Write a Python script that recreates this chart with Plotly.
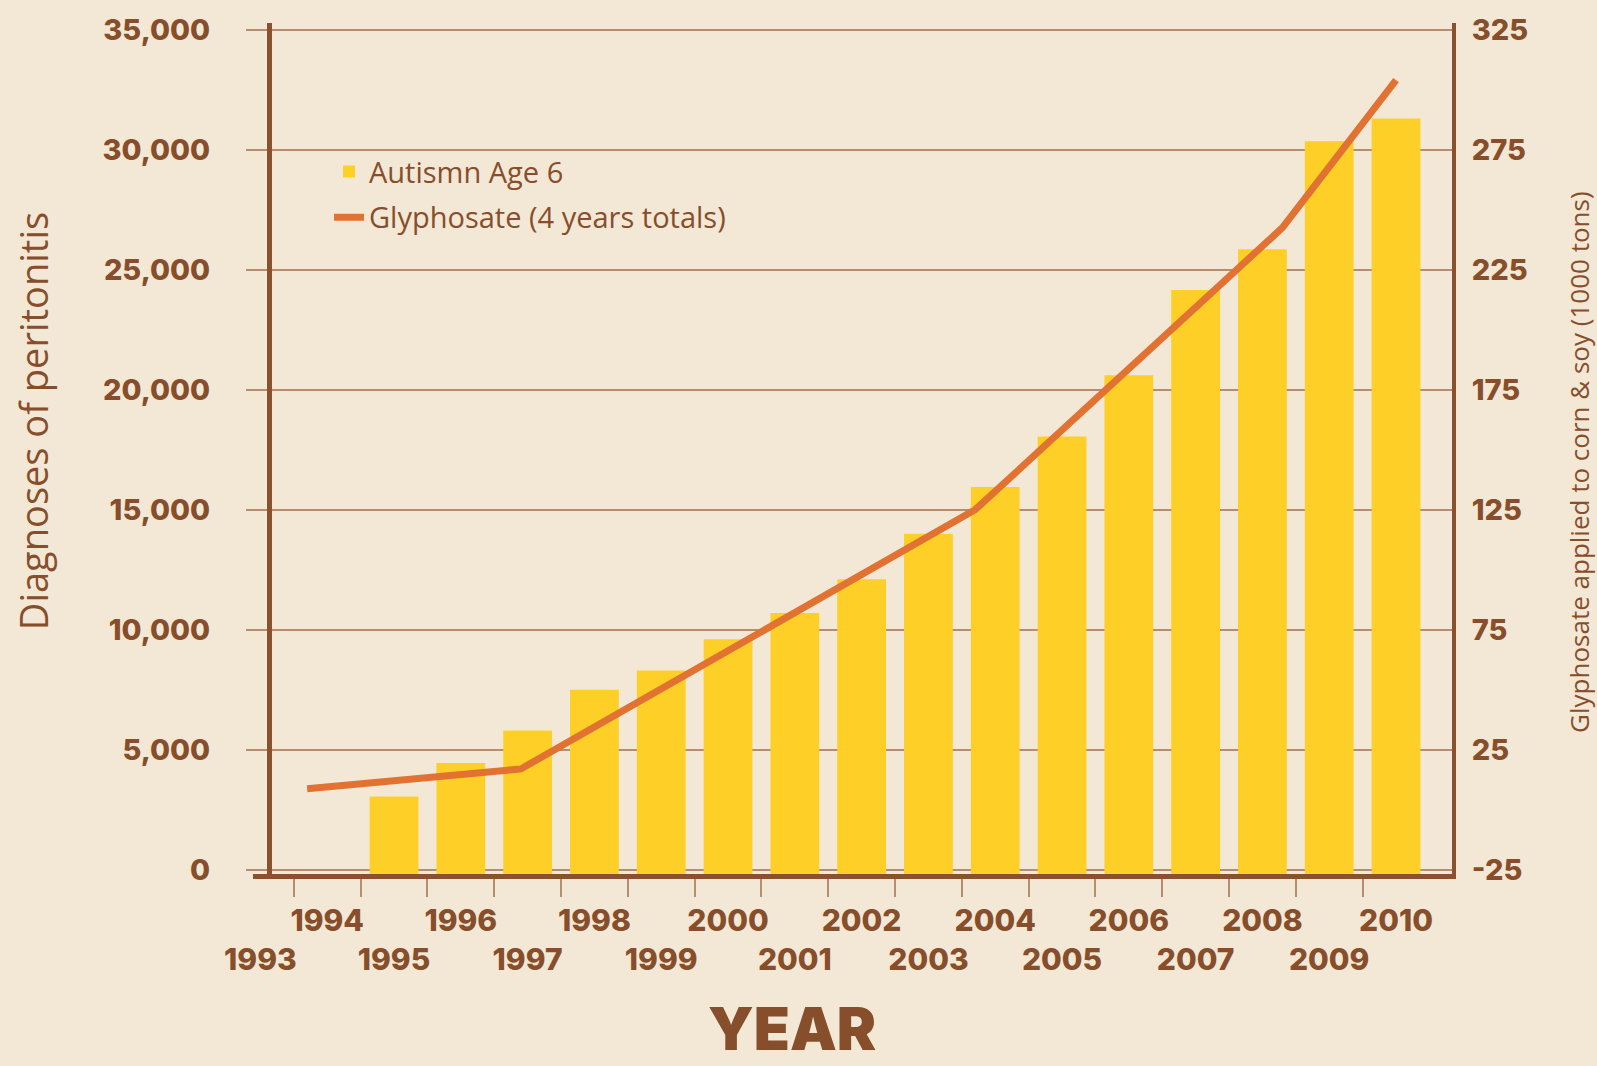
import plotly.graph_objects as go

# ---------------- data ----------------
years = list(range(1995, 2011))
autism_age6 = [3050, 4450, 5800, 7500, 8300, 9600, 10700, 12100,
               14000, 15950, 18050, 20600, 24150, 25850, 30350, 31300]
glyph_years = [1993.7, 1996.9, 2003.7, 2008.3, 2010.0]
glyphosate = [8.7, 17, 125, 242.5, 304]
tick_years = list(range(1993, 2011))
left_ticks = list(range(0, 35001, 5000))
right_ticks = list(range(-25, 326, 50))

# ---------------- style ----------------
W, H = 1597, 1066
ML, MR, MT, MB = 253, 145, 17, 192
PLOT_W = W - ML - MR
PLOT_H = H - MT - MB
BG = "#F3E8D6"
BROWN = "#874E2B"
AXIS = "#8A512E"
GRID = "#B48E70"
YELLOW = "#FDCF27"
ORANGE = "#E27232"
NUM_FONT = "Inter, Lato, sans-serif"
TXT_FONT = "Open Sans, Noto Sans, sans-serif"

Y_RANGE = [-178, 35278]
Y2_RANGE = [-25 + v / 100 for v in Y_RANGE]
X_RANGE = [1992.889, 2010.838]


def px_x(p):
    return (p - ML) / PLOT_W


def px_y(p):
    return (H - MB - p) / PLOT_H


fig = go.Figure()
fig.add_trace(go.Bar(
    x=years,
    y=[v - Y_RANGE[0] for v in autism_age6],
    base=Y_RANGE[0],
    customdata=autism_age6,
    hovertemplate="%{x}: %{customdata:,}<extra></extra>",
    width=0.73,
    marker=dict(color=YELLOW, line=dict(width=0)),
    name="Autismn Age 6",
    legendgroup="a",
))
fig.add_trace(go.Scatter(
    x=glyph_years,
    y=glyphosate,
    yaxis="y2",
    mode="lines",
    line=dict(color=ORANGE, width=7),
    name="Glyphosate (4 years totals)",
    legendgroup="b",
))

ticktext = [str(y) if y % 2 == 0 else "<br>" + str(y) for y in tick_years]

fig.update_layout(
    width=W, height=H,
    margin=dict(l=ML, r=MR, t=MT, b=MB),
    paper_bgcolor=BG,
    plot_bgcolor=BG,
    showlegend=True,
    legend=dict(
        x=px_x(329), y=px_y(141), xanchor="left", yanchor="top",
        bgcolor="rgba(0,0,0,0)",
        font=dict(family=TXT_FONT, size=29, color=BROWN),
        traceorder="grouped", tracegroupgap=5,
    ),
    xaxis=dict(
        range=X_RANGE,
        domain=[0, 1],
        anchor="y",
        showline=True, linewidth=5, linecolor=AXIS,
        showgrid=False, zeroline=False,
        tickmode="array", tickvals=tick_years, ticktext=ticktext,
        ticks="", tickangle=0,
        ticklabelstandoff=16,
        tickfont=dict(family=NUM_FONT, size=30, color=BROWN, weight=800),
        minor=dict(
            tickmode="array",
            tickvals=[y + 0.5 for y in tick_years[:-1]],
            ticks="outside", ticklen=18, tickwidth=2, tickcolor=GRID,
            showgrid=False,
        ),
    ),
    yaxis=dict(
        range=Y_RANGE,
        anchor="free", position=px_x(269),
        showline=True, linewidth=5, linecolor=AXIS,
        showgrid=True, gridcolor=GRID, gridwidth=2,
        zeroline=False,
        tickmode="array", tickvals=left_ticks,
        ticktext=[f"{v:,}" for v in left_ticks],
        ticks="outside", ticklen=21, tickwidth=2, tickcolor=GRID,
        ticklabelstandoff=30,
        tickfont=dict(family=NUM_FONT, size=29, color=BROWN, weight=800),
    ),
    yaxis2=dict(
        range=Y2_RANGE,
        overlaying="y", side="right", anchor="x",
        showline=True, linewidth=4, linecolor=AXIS,
        showgrid=False, zeroline=False,
        tickmode="array", tickvals=right_ticks,
        ticktext=[str(v) for v in right_ticks],
        ticks="",
        ticklabelstandoff=10,
        tickfont=dict(family=NUM_FONT, size=29, color=BROWN, weight=800),
    ),
    annotations=[
        dict(text="YEAR", xref="paper", yref="paper",
             x=px_x(792), y=px_y(1030), xanchor="center", yanchor="middle",
             showarrow=False,
             font=dict(family=NUM_FONT, size=59, color=BROWN, weight=900)),
        dict(text="Diagnoses of peritonitis", xref="paper", yref="paper",
             x=px_x(33), y=px_y(418), xanchor="center", yanchor="middle",
             textangle=-90, showarrow=False,
             font=dict(family=TXT_FONT, size=38, color=BROWN, weight=500)),
        dict(text="Glyphosate applied to corn & soy (1000 tons)",
             xref="paper", yref="paper",
             x=px_x(1579), y=px_y(460), xanchor="center", yanchor="middle",
             textangle=-90, showarrow=False,
             font=dict(family=TXT_FONT, size=26, color=BROWN)),
    ],
)

fig.write_html(
    "out.html",
    config={"displayModeBar": False},
    post_script="document.body.style.margin='0';document.body.style.overflow='hidden';",
)
